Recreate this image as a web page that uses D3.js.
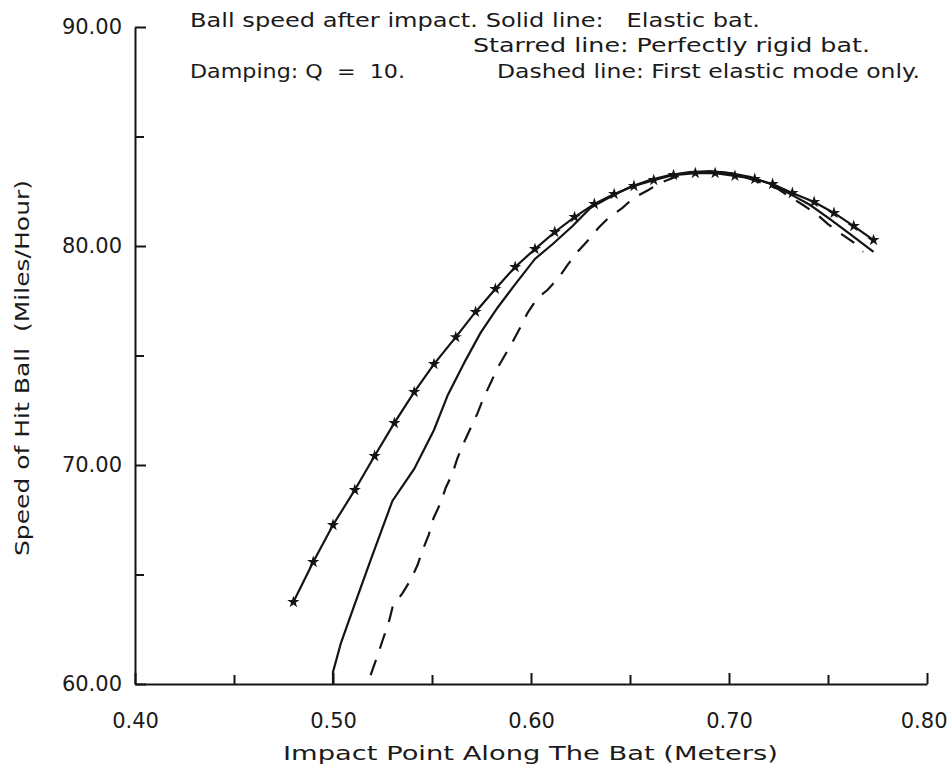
<!DOCTYPE html>
<html>
<head>
<meta charset="utf-8">
<script src="https://cdn.jsdelivr.net/npm/d3@7"></script>
<style>
  html, body { margin: 0; padding: 0; background: #fff; }
  svg { display: block; }
  text { font-family: "DejaVu Sans", sans-serif; fill: #1a1a1a; white-space: pre; }
</style>
</head>
<body>
<script>
// ---------- data ----------
const xMajorTicks = [0.40, 0.50, 0.60, 0.70, 0.80];
const xMinorTicks = [0.45, 0.55, 0.65, 0.75];
const yMajorTicks = [60, 70, 80, 90];
const yMinorTicks = [65, 75, 85];

// Starred line: perfectly rigid bat
const rigidX = [0.480, 0.490, 0.500, 0.511, 0.521, 0.531, 0.541, 0.551, 0.562, 0.572,
                0.582, 0.592, 0.602, 0.612, 0.622, 0.632, 0.642, 0.652, 0.662, 0.672,
                0.683, 0.693, 0.703, 0.713, 0.722, 0.732, 0.743, 0.753, 0.763, 0.773];
const rigidY = [63.74, 65.57, 67.26, 68.86, 70.41, 71.92, 73.33, 74.61, 75.84, 76.99,
                78.04, 79.04, 79.86, 80.64, 81.32, 81.92, 82.37, 82.74, 83.01, 83.24,
                83.33, 83.33, 83.20, 83.06, 82.83, 82.42, 82.01, 81.51, 80.91, 80.27];

// Solid line: elastic bat
const elasticX = [0.500, 0.500, 0.504, 0.5105, 0.519, 0.530, 0.541, 0.551, 0.558, 0.567,
                  0.5745, 0.583, 0.591, 0.602, 0.611, 0.621, 0.630, 0.639, 0.650, 0.660,
                  0.670, 0.680, 0.6905, 0.7005, 0.711, 0.721, 0.731, 0.741, 0.751, 0.761, 0.773];
const elasticY = [60.00, 60.55, 61.87, 63.52, 65.66, 68.36, 69.82, 71.60, 73.20, 74.79,
                  76.03, 77.17, 78.13, 79.41, 80.09, 80.91, 81.74, 82.19, 82.69, 83.01,
                  83.24, 83.38, 83.42, 83.33, 83.15, 82.83, 82.37, 81.87, 81.23, 80.55, 79.73];

// Dashed line: first elastic mode only
const firstModeX = [0.519, 0.5226, 0.5251, 0.5281, 0.5301, 0.5352, 0.5392, 0.5427, 0.5453, 0.5483,
                    0.5508, 0.5543, 0.5569, 0.5604, 0.5629, 0.566, 0.5695, 0.573, 0.576, 0.5796,
                    0.5831, 0.5866, 0.5907, 0.5947, 0.5982, 0.6033, 0.6083, 0.6139, 0.6184, 0.6235,
                    0.6285, 0.634, 0.6391, 0.6462, 0.6517, 0.6593, 0.6653, 0.6729, 0.6804, 0.688,
                    0.6956, 0.7032, 0.7107, 0.7183, 0.7248, 0.7309, 0.7374, 0.7435, 0.750, 0.7561,
                    0.7627, 0.7677];
const firstModeY = [60.41, 61.32, 62.01, 62.79, 63.52, 64.16, 64.75, 65.43, 66.12, 66.80,
                    67.58, 68.26, 68.95, 69.63, 70.32, 71.00, 71.69, 72.37, 73.06, 73.74,
                    74.43, 74.98, 75.62, 76.30, 76.94, 77.63, 77.99, 78.54, 79.13, 79.73,
                    80.23, 80.82, 81.28, 81.74, 82.19, 82.56, 82.88, 83.15, 83.33, 83.38,
                    83.38, 83.29, 83.06, 82.83, 82.60, 82.24, 81.87, 81.51, 81.00, 80.59,
                    80.18, 79.73];

const noteLines = [
  "Ball speed after impact. Solid line:   Elastic bat.",
  "Starred line: Perfectly rigid bat.",
  "Damping: Q  =  10.",
  "Dashed line: First elastic mode only."
];
const xTitle = "Impact Point Along The Bat (Meters)";
const yTitle = "Speed of Hit Ball  (Miles/Hour)";

// ---------- layout ----------
const W = 949, H = 778;
const svg = d3.select("body").append("svg").attr("width", W).attr("height", H);

const x = d3.scaleLinear().domain([0.40, 0.80]).range([135, 927]);
const y = d3.scaleLinear().domain([60, 90]).range([684, 27]);

const ink = "#141414";
const g = svg.append("g");

// axes
const xAxis = g.append("g").attr("transform", `translate(0,${y(60)})`)
  .call(d3.axisBottom(x).tickValues(xMajorTicks).tickSizeInner(-11).tickSizeOuter(0)
        .tickPadding(29).tickFormat(d3.format(".2f")));
const xAxisMinor = g.append("g").attr("transform", `translate(0,${y(60)})`)
  .call(d3.axisBottom(x).tickValues(xMinorTicks).tickSizeInner(-9).tickSizeOuter(0).tickFormat(""));
const yAxis = g.append("g").attr("transform", `translate(${x(0.40)},0)`)
  .call(d3.axisLeft(y).tickValues(yMajorTicks).tickSizeInner(-11).tickSizeOuter(0)
        .tickPadding(13).tickFormat(d3.format(".2f")));
const yAxisMinor = g.append("g").attr("transform", `translate(${x(0.40)},0)`)
  .call(d3.axisLeft(y).tickValues(yMinorTicks).tickSizeInner(-9).tickSizeOuter(0).tickFormat(""));

[xAxis, xAxisMinor, yAxis, yAxisMinor].forEach(a => {
  a.selectAll("path.domain").attr("stroke", ink).attr("stroke-width", 2);
  a.selectAll(".tick line").attr("stroke", ink).attr("stroke-width", 2);
  a.selectAll(".tick text").attr("font-size", 21).attr("font-family", "DejaVu Sans").attr("fill", ink);
});
xAxisMinor.select("path.domain").remove();
yAxisMinor.select("path.domain").remove();
// keep the last x label inside the picture
xAxis.selectAll(".tick text").filter(d => d === 0.80).attr("text-anchor", "end").attr("dx", 20);

// series
const line = d3.line().x(d => x(d[0])).y(d => y(d[1]));
const rigid = rigidX.map((v, i) => [v, rigidY[i]]);
const elastic = elasticX.map((v, i) => [v, elasticY[i]]);
const firstMode = firstModeX.map((v, i) => [v, firstModeY[i]]);

g.append("path").datum(firstMode).attr("d", line)
  .attr("fill", "none").attr("stroke", ink).attr("stroke-width", 2.2)
  .attr("stroke-dasharray", "16,12");
g.append("path").datum(elastic).attr("d", line)
  .attr("fill", "none").attr("stroke", ink).attr("stroke-width", 2.2);
g.append("path").datum(rigid).attr("d", line)
  .attr("fill", "none").attr("stroke", ink).attr("stroke-width", 2.2);
g.selectAll("path.star").data(rigid).join("path")
  .attr("class", "star")
  .attr("transform", d => `translate(${x(d[0])},${y(d[1])})`)
  .attr("d", d3.symbol().type(d3.symbolStar).size(46))
  .attr("fill", ink);

// notes
const notes = [
  {t: noteLines[0], x: 190, y: 27, w: 570},
  {t: noteLines[1], x: 473, y: 52, w: 397},
  {t: noteLines[2], x: 190, y: 78, w: 215},
  {t: noteLines[3], x: 497, y: 78, w: 423}
];
svg.selectAll("text.note").data(notes).join("text")
  .attr("class", "note")
  .attr("x", d => d.x).attr("y", d => d.y)
  .attr("font-size", 19)
  .attr("textLength", d => d.w).attr("lengthAdjust", "spacingAndGlyphs")
  .text(d => d.t);

// axis titles
svg.append("text")
  .attr("x", 283).attr("y", 760)
  .attr("font-size", 20)
  .attr("textLength", 495).attr("lengthAdjust", "spacingAndGlyphs")
  .text(xTitle);
svg.append("text")
  .attr("transform", "translate(29,556) rotate(-90)")
  .attr("font-size", 20)
  .attr("textLength", 376).attr("lengthAdjust", "spacingAndGlyphs")
  .text(yTitle);
</script>
</body>
</html>
